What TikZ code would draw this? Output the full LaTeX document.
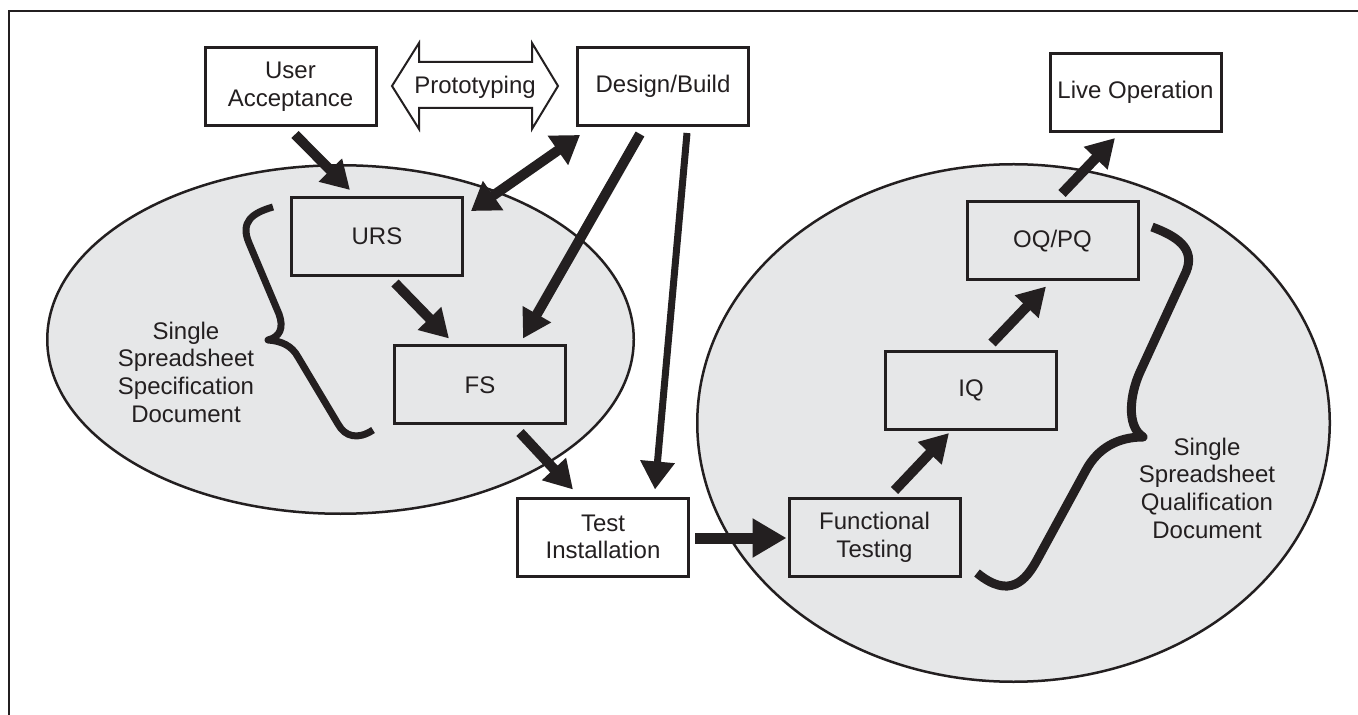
\documentclass[tikz,border=0pt]{standalone}
\usepackage{fontspec}
\setmainfont{Liberation Sans}
\usetikzlibrary{arrows.meta,calc,shapes.geometric}
\definecolor{ink}{RGB}{35,31,32}
\definecolor{shade}{RGB}{230,231,232}
\begin{document}
\begin{tikzpicture}[x=0.5pt,y=-0.5pt,
  font=\fontsize{12pt}{13.85pt}\selectfont, text=ink,
  box/.style={draw=ink, line width=1.5pt, minimum width=85.5pt, minimum height=39pt, inner sep=0pt, align=center},
  oval/.style={ellipse, draw=ink, fill=shade, line width=1.25pt, inner sep=0pt},
  lbl/.style={align=center, inner sep=0pt},
  arr/.style={draw=ink, line width=5pt, -{Triangle[length=14pt,width=15.5pt]}},
  darr/.style={draw=ink, line width=5pt, {Triangle[length=13.5pt,width=17pt]}-{Triangle[length=13.5pt,width=17pt]}},
  thinarr/.style={draw=ink, line width=3.5pt, -{Triangle[length=14pt,width=16.5pt]}},
  bigarr/.style={draw=ink, line width=5.5pt, -{Triangle[length=17pt,width=18.5pt]}},
  brace/.style={draw=ink, line join=round, line cap=butt},
]
\useasboundingbox (0,0) rectangle (1358,715);
\fill[white] (0,0) rectangle (1358,715);
% frame
\draw[ink, line width=1pt] (9,715) -- (9,11) -- (1358,11);

% ellipses
\node[oval, minimum width=293.25pt, minimum height=174.25pt] (spec) at (340.5,339.5) {};
\node[oval, minimum width=316.25pt, minimum height=258.75pt] (qual) at (1013.5,423) {};

% boxes
\node[box] (ua)  at (290.5,87)   {User\\Acceptance};
\node[box] (db)  at (663,86.5)   {Design/Build};
\node[box] (lo)  at (1135.5,92.5){Live Operation};
\node[box] (urs) at (377,236.5)  {URS};
\node[box] (fs)  at (480,385)    {FS};
\node[box] (ti)  at (603,537)    {Test\\Installation};
\node[box] (ft)  at (874.5,537)  {Functional\\Testing};
\node[box] (iq)  at (971,390.5)  {IQ};
\node[box] (oq)  at (1052.5,241) {OQ/PQ};

% prototyping double arrow
\draw[ink, fill=white, line width=1pt, line join=miter]
  (392,86) -- (419,43) -- (419,62) -- (532,62) -- (532,43) -- (558,86)
  -- (532,129) -- (532,108) -- (419,108) -- (419,129) -- cycle;
\node[lbl] (proto) at (475,87) {Prototyping};

% labels
\node[lbl] (speclbl) at (186,372) {Single\\Spreadsheet\\Specification\\Document};
\node[lbl] (quallbl) at (1207,488) {Single\\Spreadsheet\\Qualification\\Document};

% braces
\draw[brace, line width=3.5pt]
  (273,207) .. controls (252,213) and (240,222) .. (249,243) -- (279,314)
  .. controls (284,328) and (280,337) .. (268,340)
  .. controls (282,341) and (292,346) .. (298,357) -- (338,424)
  .. controls (345,437) and (358,440) .. (373,430);
\draw[brace, line width=4.5pt]
  (1152,227) .. controls (1176,236) and (1196,248) .. (1186,272) -- (1140,372)
  .. controls (1130,394) and (1126,426) .. (1143,437)
  .. controls (1118,437) and (1098,448) .. (1086,470) -- (1037,560)
  .. controls (1026,580) and (1010,600) .. (977,573);

% arrows
\draw[arr] ($(ua.south)+(4.5,7)$) -- ($(urs.north)+(-27,-6)$);
\draw[darr] ($(urs.north east)+(7,15)$) -- ($(db.south west)+(4,8)$);
\draw[arr] ($(db.south)+(-23,7)$) -- ($(fs.north)+(43,-6)$);
\draw[arr] ($(urs.south)+(18,6)$) -- ($(fs.north)+(-31,-6)$);
\draw[thinarr] ($(db.south)+(24,6)$) -- ($(ti.north)+(52,-7)$);
\draw[arr] ($(fs.south)+(40,7)$) -- ($(ti.north)+(-30,-7)$);
\draw[bigarr] ($(ti.east)+(5,1)$) -- ($(ft.west)+(-1,1)$);
\draw[arr] ($(ft.north)+(20,-6)$) -- ($(iq.south)+(-22,2)$);
\draw[arr] ($(iq.north)+(21,-7)$) -- ($(oq.south)+(-6.5,5)$);
\draw[arr] ($(oq.north)+(9.5,-7)$) -- ($(lo.south)+(-20.5,5)$);
\end{tikzpicture}
\end{document}
